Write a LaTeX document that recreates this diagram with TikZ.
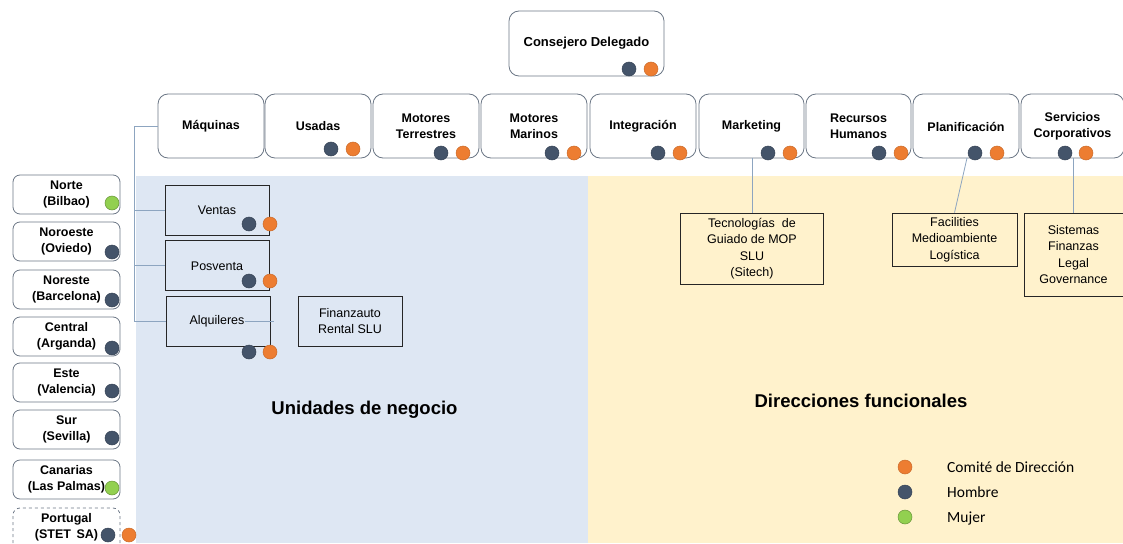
\documentclass[tikz,border=0pt]{standalone}
\usepackage{fontspec}
\setmainfont{Liberation Sans}
\newfontfamily\legendfont{Carlito}
\definecolor{bgblue}{HTML}{DEE7F3}
\definecolor{bgyellow}{HTML}{FFF2CC}
\definecolor{hombre}{HTML}{44546A}
\definecolor{comite}{HTML}{ED7D31}
\definecolor{mujer}{HTML}{92D050}
\definecolor{rbord}{HTML}{6B7685}
\definecolor{conn}{HTML}{8DA5C0}
\begin{document}
\begin{tikzpicture}[x=1pt,y=-1pt,
  rbox/.style={draw=rbord,line width=0.8pt,rounded corners=10pt,align=center,
    font=\fontsize{12.5}{15.5}\selectfont\bfseries,inner sep=0pt},
  lbox/.style={draw=rbord,line width=0.8pt,rounded corners=7pt,align=center,
    font=\fontsize{12.5}{16}\selectfont\bfseries,inner sep=0pt,
    minimum width=107pt,minimum height=39pt},
  sbox/.style={draw=black!85,line width=0.7pt,align=center,
    font=\fontsize{12.5}{16.4}\selectfont,inner sep=0pt},
  dot/.style={circle,inner sep=0pt,minimum size=14pt,line width=0.5pt},
  dh/.style={dot,fill=hombre,draw=hombre!80!black},
  dc/.style={dot,fill=comite,draw=comite!85!black},
  dm/.style={dot,fill=mujer,draw=mujer!70!black},
  cline/.style={draw=conn,line width=0.8pt},
  big/.style={font=\fontsize{18.5}{22}\selectfont\bfseries},
  legtext/.style={font=\fontsize{15.5}{18}\selectfont\legendfont,anchor=west,inner sep=0pt}
]
\useasboundingbox (0,0) rectangle (1123,543);
% backgrounds
\fill[bgblue] (136,176) rectangle (588,543);
\fill[bgyellow] (588,176) rectangle (1123,543);

% Consejero Delegado
\node[rbox,minimum width=155pt,minimum height=65pt,font=\fontsize{13}{15}\selectfont\bfseries,text depth=0pt] (cd) at (586.5,43.5) {};
\node[font=\fontsize{13}{15}\selectfont\bfseries] (cdt) at (586.5,43) {Consejero Delegado};
\node[dh] (cdh) at (629,69) {};
\node[dc] (cdc) at (651,69) {};

% top row
\foreach \nm/\cx/\w/\txt in {maq/211/106/{Máquinas},usa/318/106/{Usadas},mte/426/106/{Motores\\Terrestres},mma/534/106/{Motores\\Marinos},int/643/106/{Integración},mkt/751.5/105/{Marketing},rrh/858.5/105/{Recursos\\Humanos},pla/966/106/{Planificación},ser/1072.5/103/{Servicios\\Corporativos}}{
  \node[rbox,minimum width=\w pt,minimum height=64pt] (\nm) at (\cx,126) {};
  \node[font=\fontsize{12.5}{15.5}\selectfont\bfseries,align=center] (\nm t) at (\cx,126.5) {\txt};
}
\node[dh] (usah) at (331,149) {};
\node[dc] (usac) at (353,149) {};
\node[dh] (mteh) at (441,153) {};
\node[dc] (mtec) at (463,153) {};
\node[dh] (mmah) at (552,153) {};
\node[dc] (mmac) at (574,153) {};
\node[dh] (inth) at (658,153) {};
\node[dc] (intc) at (680,153) {};
\node[dh] (mkth) at (768,153) {};
\node[dc] (mktc) at (790,153) {};
\node[dh] (rrhh) at (879,153) {};
\node[dc] (rrhc) at (901,153) {};
\node[dh] (plah) at (975,153) {};
\node[dc] (plac) at (997,153) {};
\node[dh] (serh) at (1065,153) {};
\node[dc] (serc) at (1086,153) {};

% business unit boxes
\node[sbox,minimum width=104pt,minimum height=50pt] (ven) at (217.5,210) {};
\node[font=\fontsize{12.5}{15}\selectfont] (vent) at (217,210) {Ventas};
\node[dh] (venh) at (249,224) {};
\node[dc] (venc) at (270,224) {};
\node[sbox,minimum width=104pt,minimum height=50pt] (pos) at (217,265) {};
\node[font=\fontsize{12.5}{15}\selectfont] (post) at (217,266) {Posventa};
\node[dh] (posh) at (249,281) {};
\node[dc] (posc) at (270,281) {};
\node[sbox,minimum width=104pt,minimum height=50pt] (alq) at (218,321) {};
\node[font=\fontsize{12.5}{15}\selectfont,inner sep=0pt] (alqt) at (217,321) {Alquileres};
\node[dh] (alqh) at (249,352) {};
\node[dc] (alqc) at (270,352) {};
\node[sbox,minimum width=104pt,minimum height=50pt] (fin) at (350,321) {Finanzauto\\Rental SLU};

\coordinate (trunk) at (134.5,321.5);
\coordinate (alqend) at (274,321.5);
\draw[cline] (maq.west) -| (trunk) -- (trunk -| alq.west);
\draw[cline] (ven.west) -- (ven.west -| trunk);
\draw[cline] (pos.west) -- (pos.west -| trunk);
\draw[cline] (alqt.east |- alqend) -- (alqend);

% functional boxes
\node[sbox,minimum width=143pt,minimum height=71pt] (sit) at (752,248.5) {Tecnologías\ \ de\\Guiado de MOP\\SLU\\(Sitech)};
\node[sbox,minimum width=125pt,minimum height=53pt] (fac) at (954.5,239.5) {Facilities\\Medioambiente\\Logística};
\node[sbox,minimum width=99pt,minimum height=83pt] (sis) at (1073.5,254.5) {Sistemas\\Finanzas\\Legal\\Governance};
\draw[cline] (mkt.south -| sit.north) -- (sit.north);
\draw[cline] (967,158) -- (fac.north);
\draw[cline] (ser.south -| sis.north) -- (sis.north);

% regional boxes
\foreach \nm/\cy/\txt in {nor/194.5/{Norte\\(Bilbao)},noo/241.5/{Noroeste\\(Oviedo)},nre/289.5/{Noreste\\(Barcelona)},cen/336.5/{Central\\(Arganda)},est/382.5/{Este\\(Valencia)},sur/429.5/{Sur\\(Sevilla)},can/479.5/{Canarias\\(Las Palmas)}}{
  \node[lbox] (\nm) at (66.5,\cy) {};
  \node[font=\fontsize{12.5}{16}\selectfont\bfseries,align=center,inner sep=0pt] (\nm t) at (66.5,\cy) {\txt};
}
\node[dm] (norm) at (112,203) {};
\node[dh] (nooh) at (112,252) {};
\node[dh] (nreh) at (112,300) {};
\node[dh] (cenh) at (112,348) {};
\node[dh] (esth) at (112,391) {};
\node[dh] (surh) at (112,438) {};
\node[dm] (canm) at (112,488) {};
\draw[rbord,line width=0.8pt,dashed,rounded corners=7pt] (120,543) -- (120,508) -- (13,508) -- (13,543);
\node[font=\fontsize{12.5}{16}\selectfont\bfseries,align=center,inner sep=0pt] (port) at (66.5,527.5) {Portugal\\(STET\ \,SA)};
\node[dh] (porth) at (108,535) {};
\node[dc] (portc) at (129,535) {};

% big labels
\node[big] (un) at (364.5,410) {Unidades de negocio};
\node[big] (df) at (861,401) {Direcciones funcionales};

% legend
\node[dc] (lgc) at (905,467) {};
\node[dh] (lgh) at (905,492) {};
\node[dm] (lgm) at (905,517) {};
\node[legtext] (lgct) at (947,467) {Comité de Dirección};
\node[legtext] (lght) at (947,492) {Hombre};
\node[legtext] (lgmt) at (947,518) {Mujer};
\end{tikzpicture}
\end{document}
